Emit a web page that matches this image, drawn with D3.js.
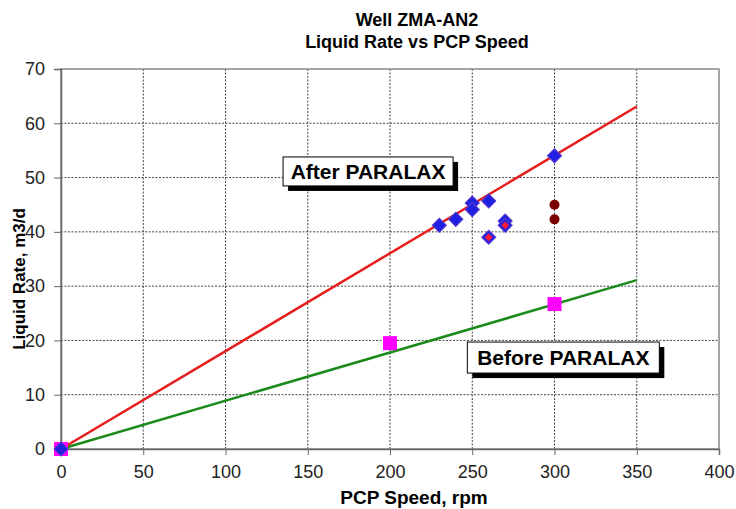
<!DOCTYPE html>
<html>
<head>
<meta charset="utf-8">
<script src="https://cdn.jsdelivr.net/npm/d3@7"></script>
<style>
  body { margin: 0; background: #fff; }
  text { font-family: "Liberation Sans", Arial, sans-serif; }
</style>
</head>
<body>
<svg id="chart" width="736" height="509"></svg>
<script>
// after PARALAX measurements (blue diamonds)
const afterSpeed = [0, 230, 240, 250, 250, 260, 260, 270, 270, 300];
const afterRate  = [0, 41.2, 42.3, 45.3, 44.1, 45.7, 39.0, 42.0, 41.2, 54.0];
// points highlighted red inside the diamonds
const redSpeed = [260, 270];
const redRate  = [39.0, 41.2];
// dark red circles
const circSpeed = [300, 300];
const circRate  = [45.0, 42.3];
// before PARALAX (magenta squares)
const beforeSpeed = [0, 200, 300];
const beforeRate  = [0, 19.5, 26.7];
// trend lines
const trendSpeed = [0, 350];
const afterTrend = [0, 63.1];
const beforeTrend = [0, 31.1];

const xTicks = [0, 50, 100, 150, 200, 250, 300, 350, 400];
const yTicks = [0, 10, 20, 30, 40, 50, 60, 70];

const svg = d3.select('#chart');
const margin = { left: 61, right: 17, top: 69, bottom: 60 };
const W = 736, H = 509;

const x = d3.scaleLinear().domain([0, 400]).range([margin.left, W - margin.right]);
const y = d3.scaleLinear().domain([0, 70]).range([H - margin.bottom, margin.top]);

// title
svg.append('text').attr('x', 417).attr('y', 26).attr('text-anchor', 'middle')
  .attr('font-weight', 'bold').attr('font-size', 18).text('Well ZMA-AN2');
svg.append('text').attr('x', 417).attr('y', 48).attr('text-anchor', 'middle')
  .attr('font-weight', 'bold').attr('font-size', 18).text('Liquid Rate vs PCP Speed');

// grid
const grid = svg.append('g');
grid.selectAll('.vg').data(xTicks.slice(1, -1)).join('line')
  .attr('x1', d => x(d)).attr('x2', d => x(d))
  .attr('y1', y(0)).attr('y2', y(70))
  .attr('stroke', '#444').attr('stroke-width', 1).attr('stroke-dasharray', '2,1.5');
grid.selectAll('.hg').data(yTicks.slice(1, -1)).join('line')
  .attr('y1', d => y(d)).attr('y2', d => y(d))
  .attr('x1', x(0)).attr('x2', x(400))
  .attr('stroke', '#444').attr('stroke-width', 1).attr('stroke-dasharray', '2,1.5');

// plot border
svg.append('rect').attr('x', x(0)).attr('y', y(70))
  .attr('width', x(400) - x(0)).attr('height', y(0) - y(70))
  .attr('fill', 'none').attr('stroke', '#888').attr('stroke-width', 1.5);

// axes
const xAxis = svg.append('g').attr('transform', `translate(0,${y(0)})`)
  .call(d3.axisBottom(x).tickValues(xTicks).tickSize(6).tickPadding(10));
const yAxis = svg.append('g').attr('transform', `translate(${x(0)},0)`)
  .call(d3.axisLeft(y).tickValues(yTicks).tickSize(7).tickPadding(9));
[xAxis, yAxis].forEach(a => {
  a.select('.domain').attr('stroke', '#666').attr('stroke-width', 1.5);
  a.selectAll('.tick line').attr('stroke', '#666');
  a.selectAll('.tick text').attr('font-size', 18).attr('fill', '#222')
    .attr('font-family', '"Liberation Sans", Arial, sans-serif');
});

// axis titles
svg.append('text').attr('x', 414).attr('y', 504).attr('text-anchor', 'middle')
  .attr('font-weight', 'bold').attr('font-size', 19).text('PCP Speed, rpm');
svg.append('text').attr('transform', 'translate(25,279) rotate(-90)').attr('text-anchor', 'middle')
  .attr('font-weight', 'bold').attr('font-size', 17).text('Liquid Rate, m3/d');

// trend lines
const line = d3.line().x(d => x(d[0])).y(d => y(d[1]));
svg.append('path').datum(d3.zip(trendSpeed, beforeTrend)).attr('d', line)
  .attr('stroke', '#1a8a1a').attr('stroke-width', 2.5).attr('fill', 'none');
svg.append('path').datum(d3.zip(trendSpeed, afterTrend)).attr('d', line)
  .attr('stroke', '#e81c1c').attr('stroke-width', 2.5).attr('fill', 'none');

// markers
const diamond = d3.symbol().type(d3.symbolSquare);
svg.selectAll('.sq').data(d3.zip(beforeSpeed, beforeRate)).join('rect')
  .attr('x', d => x(d[0]) - 7).attr('y', d => y(d[1]) - 7)
  .attr('width', 14).attr('height', 14).attr('fill', '#ff00ff');

svg.selectAll('.dia').data(d3.zip(afterSpeed, afterRate)).join('path')
  .attr('d', diamond.size(100)())
  .attr('transform', d => `translate(${x(d[0])},${y(d[1])}) rotate(45)`)
  .attr('fill', '#2020e0').attr('stroke', '#5a3ad0').attr('stroke-width', 1);

svg.selectAll('.rd').data(d3.zip(redSpeed, redRate)).join('path')
  .attr('d', diamond.size(30)())
  .attr('transform', d => `translate(${x(d[0])},${y(d[1])}) rotate(45)`)
  .attr('fill', '#ff1a3a');

svg.selectAll('.circ').data(d3.zip(circSpeed, circRate)).join('circle')
  .attr('cx', d => x(d[0])).attr('cy', d => y(d[1])).attr('r', 5)
  .attr('fill', '#7a0000');

// labels with drop shadow
function label(txt, sx, sy, w, h) {
  const g = svg.append('g').attr('transform', `translate(${x(sx)},${y(sy)})`);
  g.append('rect').attr('x', 5).attr('y', 5).attr('width', w).attr('height', h).attr('fill', '#000');
  g.append('rect').attr('width', w).attr('height', h).attr('fill', '#fff')
    .attr('stroke', '#000').attr('stroke-width', 1);
  g.append('text').attr('x', w / 2).attr('y', h / 2 + 7.5).attr('text-anchor', 'middle')
    .attr('font-weight', 'bold').attr('font-size', 21).text(txt);
}
label('After PARALAX', 135, 53.8, 170, 29);
label('Before PARALAX', 247, 19.7, 192, 31);
</script>
</body>
</html>
